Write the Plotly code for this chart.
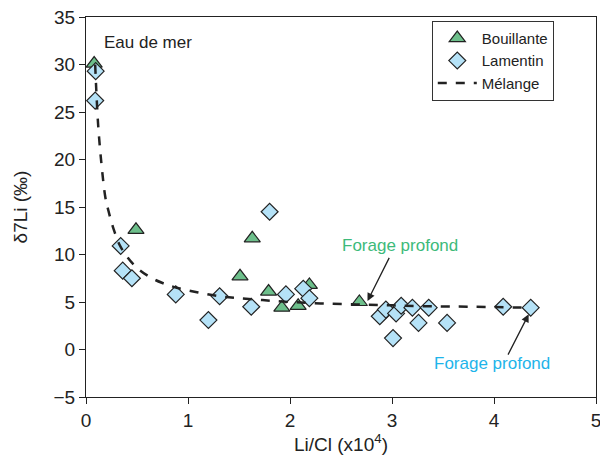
import plotly.graph_objects as go

# Bouillante (triangles)
bou_x = [0.08, 0.49, 1.63, 1.51, 1.79, 1.92, 2.08, 2.19, 2.68]
bou_y = [30.1, 12.6, 11.7, 7.7, 6.1, 4.4, 4.6, 6.8, 5.0]

# Lamentin (diamonds)
lam_x = [0.095, 0.09, 0.34, 0.36, 0.45, 0.88, 1.20, 1.31, 1.62, 1.80, 1.96, 2.13, 2.19,
         2.88, 2.94, 3.04, 3.09, 3.20, 3.36, 3.26, 3.54, 3.01, 4.09, 4.36]
lam_y = [29.3, 26.2, 10.9, 8.3, 7.5, 5.8, 3.1, 5.6, 4.5, 14.5, 5.8, 6.4, 5.4,
         3.5, 4.2, 3.8, 4.6, 4.4, 4.4, 2.8, 2.8, 1.2, 4.5, 4.4]

# Mixing curve
mix_x = [0.09, 0.10, 0.12, 0.15, 0.19, 0.22, 0.27, 0.33, 0.40, 0.50, 0.63, 0.75, 0.89,
         1.10, 1.31, 1.50, 1.73, 2.00, 2.30, 2.65, 3.00, 3.37, 3.80, 4.34]
mix_y = [30.0, 27.5, 23.5, 19.7, 16.0, 14.6, 12.7, 11.0, 9.8, 8.6, 7.6, 7.0, 6.5,
         6.0, 5.6, 5.4, 5.2, 5.0, 4.85, 4.75, 4.65, 4.55, 4.5, 4.4]

FONT = "Liberation Sans, Arial, sans-serif"
DARK = "#222222"

fig = go.Figure()
fig.add_trace(go.Scatter(x=bou_x, y=bou_y, mode="markers", name="Bouillante",
                         marker=dict(symbol="triangle-up", size=14, color="#6dbf8b",
                                     line=dict(color=DARK, width=1.2))))
fig.add_trace(go.Scatter(x=lam_x, y=lam_y, mode="markers", name="Lamentin",
                         marker=dict(symbol="diamond", size=13, color="#b5e2f7",
                                     line=dict(color=DARK, width=1.2))))
fig.add_trace(go.Scatter(x=mix_x, y=mix_y, mode="lines", name="Mélange",
                         line=dict(color=DARK, width=2.5, dash="dash", shape="spline")))

fig.add_annotation(x=0.16, y=32.3, text="Eau de mer", showarrow=False, xanchor="left",
                   yanchor="middle", font=dict(size=17, color=DARK, family=FONT))
fig.add_annotation(x=2.76, y=5.1, ax=2.98, ay=9.8, axref="x", ayref="y",
                   text="", showarrow=True, arrowhead=2, arrowsize=1.2, arrowwidth=1.3,
                   arrowcolor=DARK)
fig.add_annotation(x=3.08, y=11.0, text="Forage profond", showarrow=False,
                   font=dict(size=17, color="#3dba7a", family=FONT))
fig.add_annotation(x=4.34, y=3.7, ax=4.13, ay=-0.7, axref="x", ayref="y",
                   text="", showarrow=True, arrowhead=2, arrowsize=1.2, arrowwidth=1.3,
                   arrowcolor=DARK)
fig.add_annotation(x=3.98, y=-1.5, text="Forage profond", showarrow=False,
                   font=dict(size=17, color="#1eb4ea", family=FONT))

axis_common = dict(showgrid=False, zeroline=False, showline=True, linecolor=DARK,
                   linewidth=1.2, mirror=True, ticks="outside", ticklen=6,
                   tickcolor=DARK, automargin=False, ticklabeloverflow="allow",
                   tickfont=dict(size=19, color=DARK, family=FONT))

fig.update_xaxes(range=[0, 5], dtick=1, title=dict(text="Li/Cl (x10<sup>4</sup>)",
                 font=dict(size=19, color=DARK, family=FONT), standoff=0), **axis_common)
fig.update_yaxes(range=[-5, 35], dtick=5, title=dict(text="δ7Li (‰)",
                 font=dict(size=19, color=DARK, family=FONT), standoff=20), **axis_common)

fig.update_layout(width=600, height=464, margin=dict(l=86, r=4, t=17, b=67),
                  plot_bgcolor="white", paper_bgcolor="white",
                  font=dict(family=FONT, color=DARK),
                  legend=dict(x=0.678, y=0.99, xanchor="left", yanchor="top",
                              bordercolor="#333333", borderwidth=1, bgcolor="white",
                              font=dict(size=15, family=FONT), tracegroupgap=0,
                              itemwidth=39))
fig.write_html("out.html", config={"displayModeBar": False},
               post_script="document.body.style.margin='0';document.body.style.overflow='hidden';")
